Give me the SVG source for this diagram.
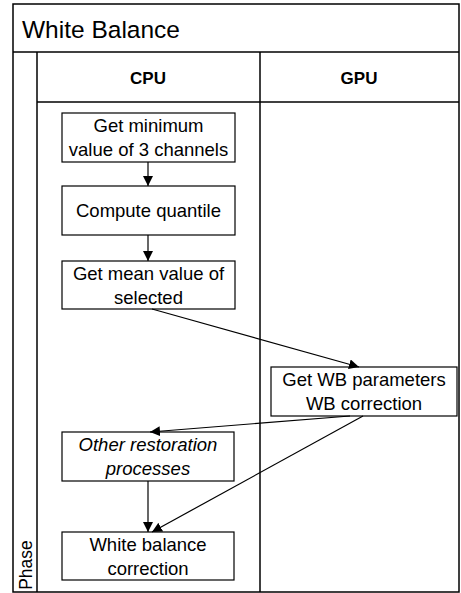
<svg xmlns="http://www.w3.org/2000/svg" width="461" height="593" viewBox="0 0 461 593">
<style>
.frame{fill:none;stroke:#000;stroke-width:1.5}
.box{fill:#fff;stroke:#000;stroke-width:1.2}
.t{font-family:"Liberation Sans",Arial,sans-serif;font-size:18.5px;fill:#000;text-anchor:middle}
.h{font-family:"Liberation Sans",Arial,sans-serif;font-size:17px;font-weight:bold;fill:#000;text-anchor:middle}
.c{fill:none;stroke:#000;stroke-width:1.2;marker-end:url(#ah)}
</style>
<defs>
<marker id="ah" viewBox="0 0 10 10" refX="10" refY="5" markerWidth="10" markerHeight="10" markerUnits="userSpaceOnUse" orient="auto">
<path d="M0,0 L10,5 L0,10 z" fill="#000"/>
</marker>
</defs>
<rect width="461" height="593" fill="#fff"/>
<g id="pool">
<rect class="frame" x="13" y="4" width="446" height="588"/>
<line class="frame" x1="13" y1="52" x2="459" y2="52"/>
<line class="frame" x1="37" y1="52" x2="37" y2="592"/>
<line class="frame" x1="260" y1="52" x2="260" y2="592"/>
<line class="frame" x1="37" y1="102" x2="459" y2="102"/>
<text x="22" y="38" font-family="'Liberation Sans',Arial,sans-serif" font-size="24.5" fill="#000">White Balance</text>
<text class="h" x="148" y="84">CPU</text>
<text class="h" x="359" y="84">GPU</text>
<text class="t" transform="translate(32,565) rotate(-90)" style="font-size:17.5px">Phase</text>
</g>
<g id="n1"><rect class="box" x="62" y="113" width="173" height="49"/><text class="t" x="148.5" y="132">Get minimum</text><text class="t" x="148.5" y="156">value of 3 channels</text></g>
<g id="n2"><rect class="box" x="62" y="186" width="173" height="49"/><text class="t" x="148.5" y="217">Compute quantile</text></g>
<g id="n3"><rect class="box" x="62" y="261" width="173" height="48"/><text class="t" x="148.5" y="280">Get mean value of</text><text class="t" x="148.5" y="304">selected</text></g>
<g id="n4"><rect class="box" x="271" y="367" width="186" height="49"/><text class="t" x="364" y="386">Get WB parameters</text><text class="t" x="364" y="410">WB correction</text></g>
<g id="n5"><rect class="box" x="62" y="432" width="172" height="49"/><text class="t" x="148" y="451" font-style="italic">Other restoration</text><text class="t" x="148" y="475" font-style="italic">processes</text></g>
<g id="n6"><rect class="box" x="62" y="532" width="172" height="48"/><text class="t" x="148" y="551">White balance</text><text class="t" x="148" y="575">correction</text></g>
<g id="connectors">
<line class="c" x1="148" y1="162" x2="148" y2="186"/>
<line class="c" x1="148" y1="235" x2="148" y2="261"/>
<line class="c" x1="152" y1="309" x2="359" y2="367"/>
<line class="c" x1="350" y1="416" x2="150" y2="432"/>
<line class="c" x1="363" y1="416" x2="152" y2="532"/>
<line class="c" x1="148" y1="481" x2="148" y2="532"/>
</g>
</svg>
